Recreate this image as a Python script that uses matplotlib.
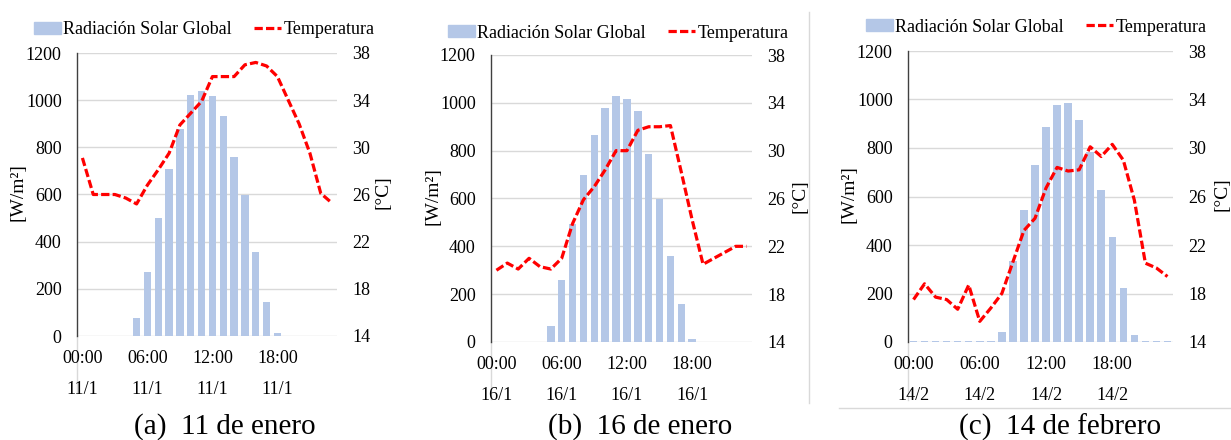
import matplotlib.pyplot as plt
from matplotlib.patches import Patch
from matplotlib.lines import Line2D

plt.rcParams['font.family'] = ['Liberation Serif', 'DejaVu Serif']

W, H = 1231, 440

hours = list(range(24))
tick_hours = [0, 6, 12, 18]
tick_times = ['00:00', '06:00', '12:00', '18:00']

dates_a = ['11/1', '11/1', '11/1', '11/1']
dates_b = ['16/1', '16/1', '16/1', '16/1']
dates_c = ['14/2', '14/2', '14/2', '14/2']

titles = ['(a)  11 de enero', '(b)  16 de enero', '(c)  14 de febrero']

rad_a = [0, 0, 0, 0, 0, 75, 273, 500, 709, 877, 1020, 1037, 1019, 934,
         760, 596, 357, 143, 14, 0, 0, 0, 0, 0]
temp_a = [29.1, 26.0, 26.0, 26.0, 25.7, 25.2, 26.8, 28.1, 29.5, 31.9, 32.9, 33.9,
          36.0, 36.0, 36.0, 37.0, 37.2, 36.9, 36.0, 34.0, 32.0, 29.5, 26.1, 25.3]

rad_b = [0, 0, 0, 0, 0, 66, 261, 493, 698, 865, 980, 1030, 1016, 966,
         788, 597, 359, 158, 14, 0, 0, 0, 0, 0]
temp_b = [20.0, 20.6, 20.1, 21.0, 20.3, 20.1, 21.0, 23.9, 25.9, 27.0, 28.4, 30.0,
          30.0, 31.7, 32.0, 32.0, 32.1, 28.2, 24.2, 20.5, 21.0, 21.5, 22.0, 22.0]

rad_c = [4, 4, 4, 4, 4, 4, 4, 4, 41, 334, 546, 729, 888, 976,
         984, 915, 784, 626, 431, 224, 28, 4, 4, 4]
temp_c = [17.5, 18.8, 17.7, 17.5, 16.7, 18.7, 15.7, 16.8, 18.0, 20.6, 23.2, 24.2,
          26.7, 28.4, 28.1, 28.2, 30.1, 29.3, 30.3, 29.0, 25.7, 20.5, 20.1, 19.4]

BAR_COLOR = '#B4C7E7'
LINE_COLOR = '#FF0000'
GRID_COLOR = '#D9D9D9'
FS = 13


def px(x, y):
    return x / W, 1 - y / H


def draw_panel(fig, box, rad, temp, dates, title, legend_xy, ylab_x, clab_x, title_x):
    left, top, right, bottom = box
    ax = fig.add_axes([left / W, 1 - bottom / H, (right - left) / W, (bottom - top) / H])
    ax.bar(hours, rad, width=0.68, color=BAR_COLOR, zorder=2)
    ax.set_xlim(-0.5, 23.5)
    ax.set_ylim(0, 1200)
    ax.set_yticks(range(0, 1201, 200))
    ax.yaxis.grid(True, color=GRID_COLOR, linewidth=1, zorder=0)
    ax.set_axisbelow(True)
    for s in ['top', 'right', 'bottom']:
        ax.spines[s].set_visible(False)
    ax.spines['left'].set_color('#404040')
    ax.spines['left'].set_linewidth(1)
    ax.tick_params(axis='both', length=0, labelsize=FS, pad=11)
    ax.set_xticks(tick_hours)
    ax.set_xticklabels([])

    # two-level category labels
    for h, t, d in zip(tick_hours, tick_times, dates):
        ax.annotate(t, xy=(h, 0), xycoords=('data', 'axes fraction'),
                    xytext=(0, -16), textcoords='offset points',
                    ha='center', va='center', fontsize=FS)
        ax.annotate(d, xy=(h, 0), xycoords=('data', 'axes fraction'),
                    xytext=(0, -38.5), textcoords='offset points',
                    ha='center', va='center', fontsize=FS)
    ax.plot([-0.5, -0.5], [0, -0.2], transform=ax.get_xaxis_transform(),
            color=GRID_COLOR, linewidth=1, clip_on=False)

    ax2 = ax.twinx()
    ax2.plot(hours, temp, color=LINE_COLOR, linewidth=2.3, linestyle=(0, (2.6, 1.0)), zorder=3)
    ax2.set_ylim(14, 38)
    ax2.set_yticks(range(14, 39, 4))
    for s in ['top', 'right', 'bottom', 'left']:
        ax2.spines[s].set_visible(False)
    ax2.tick_params(axis='y', length=0, labelsize=FS, pad=11)

    cy = (top + bottom) / 2 - 2
    fig.text(*px(ylab_x, cy), '[W/m²]', rotation=90, ha='center', va='center', fontsize=14)
    fig.text(*px(clab_x, cy), '[°C]', rotation=90, ha='center', va='center', fontsize=14)
    fig.text(*px(title_x, 427), title, ha='center', va='center', fontsize=21)

    handles = [Patch(color=BAR_COLOR, label='Radiación Solar Global'),
               Line2D([], [], color=LINE_COLOR, linewidth=2.3, linestyle=(0, (2.6, 1.0)),
                      label='Temperatura')]
    ax.legend(handles=handles, loc='center', bbox_to_anchor=px(*legend_xy),
              bbox_transform=fig.transFigure, ncol=2, frameon=False, fontsize=FS,
              handlelength=1.5, handleheight=0.65, handletextpad=0.15, columnspacing=1.2,
              borderpad=0, borderaxespad=0)
    return ax


fig = plt.figure(figsize=(W / 100, H / 100), dpi=100)

draw_panel(fig, (77, 53, 337, 336), rad_a, temp_a, dates_a, titles[0],
           (204, 30), 18, 383, 225)
draw_panel(fig, (491, 55, 752, 342), rad_b, temp_b, dates_b, titles[1],
           (618, 33), 433, 800, 640)
draw_panel(fig, (908, 51, 1173, 342), rad_c, temp_c, dates_c, titles[2],
           (1036, 27), 849, 1222, 1060)

# panel separators
fig.add_artist(Line2D([809 / W, 809 / W], [1 - 12 / H, 1 - 403 / H], color=GRID_COLOR, linewidth=1))
fig.add_artist(Line2D([839 / W, 1.0], [1 - 408 / H, 1 - 408 / H], color=GRID_COLOR, linewidth=1))

fig.savefig('out.png', dpi=100)
